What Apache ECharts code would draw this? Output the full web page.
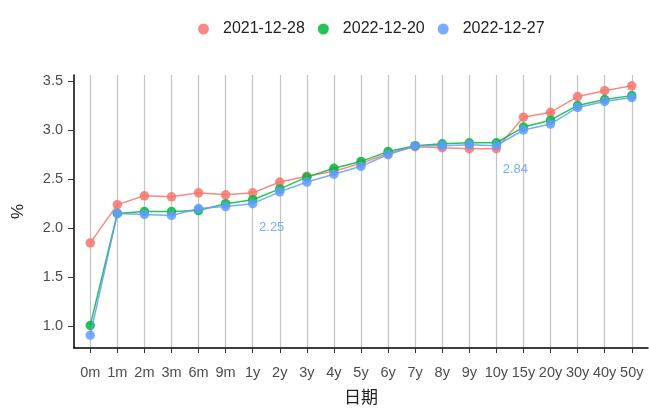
<!DOCTYPE html>
<html><head><meta charset="utf-8">
<script src="https://cdn.jsdelivr.net/npm/echarts@6/dist/echarts.min.js"></script>
<style>html,body{margin:0;padding:0;background:#fff}#c{width:649px;height:410px}</style>
</head><body><div id="c"></div>
<script>
const categories = ['0m','1m','2m','3m','6m','9m','1y','2y','3y','4y','5y','6y','7y','8y','9y','10y','15y','20y','30y','40y','50y'];
const s20211228 = [1.85,2.24,2.33,2.32,2.36,2.34,2.36,2.47,2.53,2.58,2.66,2.76,2.83,2.82,2.81,2.81,3.13,3.18,3.34,3.40,3.45];
const s20221220 = [1.01,2.15,2.17,2.17,2.18,2.25,2.29,2.40,2.52,2.61,2.68,2.78,2.84,2.86,2.87,2.87,3.03,3.10,3.25,3.31,3.35];
const s20221227 = [0.91,2.15,2.14,2.13,2.20,2.22,2.25,2.37,2.47,2.55,2.63,2.75,2.84,2.84,2.85,2.84,3.00,3.06,3.23,3.29,3.33];
const yTicks = [1.0,1.5,2.0,2.5,3.0,3.5];
const seriesNames = ['2021-12-28','2022-12-20','2022-12-27'];
const labeledPoints = ['1y','10y']; // labelled points of 2022-12-27

const colors = ['#F8766D','#00BA38','#619CFF'];
const allSeries = [s20211228, s20221220, s20221227];
const xIdx = categories.map((_, i) => i);
const labelOffsets = {'1y': [19, 8], '10y': [19, 7]};

const chart = echarts.init(document.getElementById('c'), null, {renderer: 'canvas'});
const font = 'Liberation Sans, Arial, sans-serif';

const series = allSeries.map((vals, si) => ({
  name: seriesNames[si],
  type: 'line',
  color: colors[si],
  symbol: 'circle',
  symbolSize: 9.5,
  lineStyle: {width: 1.5, opacity: 0.85},
  itemStyle: {opacity: 0.85},
  z: 3 + si,
  animation: false,
  data: vals.map((v, i) => {
    const item = {value: [i, v]};
    if (si === 2 && labeledPoints.includes(categories[i])) {
      item.label = {
        show: true, position: 'bottom', offset: labelOffsets[categories[i]],
        formatter: () => v.toFixed(2), color: colors[2], fontSize: 13, fontFamily: font
      };
    }
    return item;
  })
}));

chart.setOption({
  backgroundColor: '#fff',
  animation: false,
  legend: {
    top: 16, left: 193,
    icon: 'circle', itemWidth: 11, itemHeight: 11, itemGap: 13,
    textStyle: {fontSize: 16, color: '#222', fontFamily: font, padding: [0, 0, 0, 9]},
    data: seriesNames
  },
  grid: {left: 74, right: 1, top: 75, bottom: 54, containLabel: false},
  xAxis: {
    type: 'value', min: -0.6, max: 20.6,
    name: '日期', nameLocation: 'middle', nameGap: 40,
    nameTextStyle: {fontSize: 17, color: '#222', fontFamily: 'Noto Sans CJK SC'},
    axisLine: {show: true, onZero: false, lineStyle: {color: '#000', width: 1.5}},
    axisTick: {show: true, length: 5, customValues: xIdx, lineStyle: {color: '#333', width: 1}},
    axisLabel: {customValues: xIdx, formatter: v => categories[Math.round(v)] ?? '', color: '#4D4D4D', fontSize: 14.5, fontFamily: font, margin: 17},
    splitLine: {show: true, lineStyle: {color: '#C4C4C4', width: 1.2}}
  },
  yAxis: {
    type: 'value', min: 0.78, max: 3.56,
    name: '%', nameLocation: 'middle', nameGap: 47, nameRotate: 90,
    nameTextStyle: {fontSize: 17, color: '#222', fontFamily: font},
    axisLine: {show: true, onZero: false, lineStyle: {color: '#000', width: 1.5}},
    axisTick: {show: true, length: 6, customValues: yTicks, lineStyle: {color: '#333', width: 1}},
    axisLabel: {customValues: yTicks, formatter: v => v.toFixed(1), color: '#4D4D4D', fontSize: 14.5, fontFamily: font, margin: 11},
    splitLine: {show: false}
  },
  series
});
</script></body></html>
